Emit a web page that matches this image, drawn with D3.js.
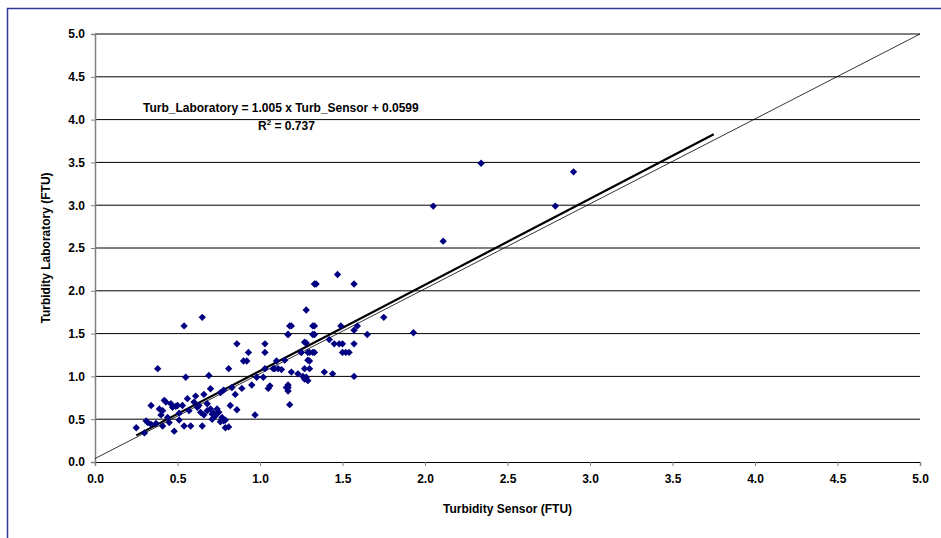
<!DOCTYPE html>
<html>
<head>
<meta charset="utf-8">
<script src="https://d3js.org/d3.v7.min.js"></script>
<style>
  body { margin: 0; background: #fff; font-family: "Liberation Sans", Arial, sans-serif; }
  text { font-weight: bold; font-size: 12px; fill: #000; }
</style>
</head>
<body>
<div id="chart"></div>
<script>
// data
var sensor = [1.34,1.28,0.65,0.54,1.19,1.33,1.17,1.33,0.86,1.03,1.28,0.93,1.03,1.30,1.33,0.90,0.92,1.10,1.25,1.30,
  0.38,0.81,1.03,1.08,1.11,1.13,1.30,0.55,0.69,0.98,1.02,1.23,1.28,1.29,1.44,0.70,0.83,0.89,0.95,1.06,1.05,1.16,1.17,0.78,0.76,0.85,0.66,1.18,
  0.34,0.42,0.43,0.39,0.41,0.40,0.47,0.50,0.53,0.56,0.61,0.63,0.64,0.66,0.68,0.71,0.73,0.75,0.78,0.79,0.77,0.74,0.51,0.45,0.31,0.32,0.34,
  0.25,0.30,0.41,0.48,0.54,0.58,0.65,0.81,0.79,0.82,0.86,0.97,0.46,0.49,0.37,0.60,0.70,0.72,0.68,0.62,0.51,0.44,0.57,0.76,0.71,
  2.34,2.90,2.05,2.79,2.11,1.47,1.33,1.57,1.75,1.93,1.65,1.59,1.57,1.49,1.32,1.18,1.17,1.32,1.27,1.45,1.48,1.50,1.57,1.42,1.25,1.29,1.32,
  1.50,1.52,1.54,1.15,1.29,1.09,1.19,1.27,1.39,1.26,1.27,1.57,1.17,1.17];
var lab = [2.08,1.776,1.69,1.59,1.59,1.59,1.49,1.49,1.38,1.38,1.39,1.28,1.28,1.28,1.28,1.18,1.18,1.18,1.28,1.18,
  1.09,1.09,1.09,1.09,1.09,1.08,1.09,0.99,1.01,0.99,0.99,1.03,0.99,0.95,1.03,0.856,0.87,0.86,0.9,0.89,0.86,0.87,0.83,0.84,0.81,0.79,0.79,0.67,
  0.66,0.72,0.70,0.62,0.60,0.55,0.64,0.66,0.66,0.74,0.77,0.66,0.58,0.55,0.60,0.56,0.54,0.58,0.48,0.40,0.52,0.62,0.49,0.46,0.48,0.46,0.44,
  0.40,0.34,0.42,0.36,0.42,0.42,0.42,0.41,0.49,0.66,0.61,0.55,0.68,0.65,0.45,0.70,0.62,0.57,0.68,0.64,0.57,0.52,0.60,0.47,0.50,
  3.49,3.39,2.99,2.99,2.58,2.19,2.08,2.08,1.69,1.51,1.49,1.59,1.54,1.59,1.59,1.59,1.49,1.49,1.40,1.38,1.38,1.38,1.38,1.43,1.28,1.28,1.28,
  1.28,1.28,1.28,1.19,1.19,1.09,1.05,1.09,1.05,1.0,0.97,1.0,0.9,0.87];
var ticks = [0,0.5,1,1.5,2,2.5,3,3.5,4,4.5,5];
var slope = 1.005, intercept = 0.0599, fitFrom = 0.25, fitTo = 3.75;

var W = 941, H = 538;
var svg = d3.select("#chart").append("svg").attr("width", W).attr("height", H);

svg.append("rect").attr("x", 7.5).attr("y", 8.5).attr("width", 945).attr("height", 540)
  .attr("fill", "#fff").attr("stroke", "#333399").attr("stroke-width", 1.5);

var x = d3.scaleLinear().domain([0, 5]).range([95, 920]);
var y = d3.scaleLinear().domain([0, 5]).range([462, 34]);

// grid
svg.append("g").selectAll("line").data(ticks.slice(1)).enter().append("line")
  .attr("x1", x(0)).attr("x2", x(5)).attr("y1", d => y(d)).attr("y2", d => y(d))
  .attr("stroke", "#000").attr("stroke-width", 1);

var fmt = d3.format(".1f");
var gx = svg.append("g").attr("transform", "translate(0," + y(0) + ")")
  .call(d3.axisBottom(x).tickValues(ticks).tickFormat(fmt).tickSize(4));
var gy = svg.append("g").attr("transform", "translate(" + x(0) + ",0)")
  .call(d3.axisLeft(y).tickValues(ticks).tickFormat(fmt).tickSize(4));
gx.select(".domain").attr("stroke", "#000").attr("stroke-width", 1.2);
gy.select(".domain").attr("stroke", "#808080").attr("stroke-width", 1.5);
[gx, gy].forEach(function (g) {
  g.selectAll(".tick line").attr("stroke", "#808080");
  g.selectAll("text").style("font-family", "Liberation Sans, Arial").style("font-weight", "bold").style("font-size", "12px");
});
gx.selectAll(".tick text").attr("y", 12);
gy.selectAll(".tick text").attr("x", -10);

// 1:1 line
svg.append("line").attr("x1", x(0)).attr("y1", y(0.04)).attr("x2", x(5)).attr("y2", y(5))
  .attr("stroke", "#000").attr("stroke-width", 0.8);
// regression line
svg.append("line").attr("x1", x(fitFrom)).attr("y1", y(slope * fitFrom + intercept))
  .attr("x2", x(fitTo)).attr("y2", y(slope * fitTo + intercept))
  .attr("stroke", "#000").attr("stroke-width", 2.2);

// points
svg.append("g").selectAll("rect").data(sensor).enter().append("rect")
  .attr("x", -2.6).attr("y", -2.6).attr("width", 5.2).attr("height", 5.2)
  .attr("transform", (d, i) => "translate(" + x(d) + "," + y(lab[i]) + ") rotate(45)")
  .attr("fill", "#000080");

svg.append("text").attr("x", 143).attr("y", 112).text("Turb_Laboratory = 1.005 x Turb_Sensor + 0.0599");
var r = svg.append("text").attr("x", 258).attr("y", 130);
r.append("tspan").text("R");
r.append("tspan").attr("dy", -5).style("font-size", "8px").text("2");
r.append("tspan").attr("dy", 5).text(" = 0.737");

svg.append("text").attr("x", x(2.5)).attr("y", 513).attr("text-anchor", "middle").text("Turbidity Sensor (FTU)");
svg.append("text").attr("transform", "translate(50," + y(2.5) + ") rotate(-90)")
  .attr("text-anchor", "middle").text("Turbidity Laboratory (FTU)");
</script>
</body>
</html>
